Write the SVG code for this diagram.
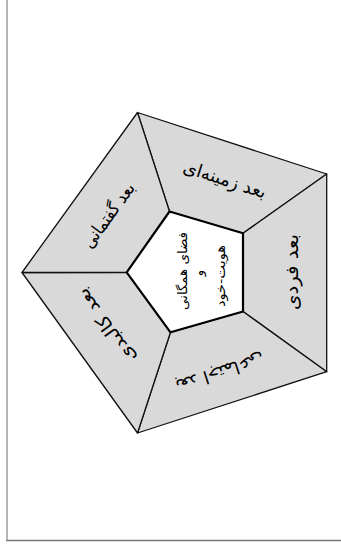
<svg xmlns="http://www.w3.org/2000/svg" width="341" height="552" viewBox="0 0 341 552">
<style>
.seg{fill:#d9d9d9;stroke:#111;stroke-width:1.3;stroke-linejoin:round}
.core{fill:#fff;stroke:#000;stroke-width:2.2;stroke-linejoin:round}
.lbl{font-family:"DejaVu Sans",sans-serif;font-size:18px;fill:#000;text-anchor:middle;dominant-baseline:central}
.ctr{font-family:"DejaVu Sans",sans-serif;font-size:13px;fill:#000;text-anchor:middle;dominant-baseline:central}
</style>
<rect x="0" y="0" width="341" height="552" fill="#fff"/>
<g id="frame" fill="none">
<line x1="7" y1="0" x2="7" y2="541" stroke="#999" stroke-width="1.4"/>
<line x1="6.3" y1="540.5" x2="341" y2="540.5" stroke="#777" stroke-width="1.4"/>
</g>
<g id="connectors"></g>
<g id="seg-zamine">
<polygon class="seg" points="137.5,112.5 326.7,174 243,233.3 169.5,211.5"/>
<text class="lbl" transform="translate(225,179) rotate(18)" textLength="86" lengthAdjust="spacingAndGlyphs">بعد زمینه‌ای</text>
</g>
<g id="seg-fardi">
<polygon class="seg" points="326.7,174 326.7,371.7 243,311.5 243,233.3"/>
<text class="lbl" transform="translate(291,272) rotate(-90)" textLength="76" lengthAdjust="spacingAndGlyphs">بعد فردی</text>
</g>
<g id="seg-ejtemai">
<polygon class="seg" points="326.7,371.7 137.5,433 170.5,332.3 243,311.5"/>
<text class="lbl" transform="translate(220,373) rotate(162)" textLength="92" lengthAdjust="spacingAndGlyphs">بعد اجتماعی</text>
</g>
<g id="seg-kalbadi">
<polygon class="seg" points="137.5,433 22,272.5 126.7,272.3 170.5,332.3"/>
<text class="lbl" transform="translate(106,326) rotate(-126)" textLength="88" lengthAdjust="spacingAndGlyphs">بعد کالبدی</text>
</g>
<g id="seg-goftemani">
<polygon class="seg" points="22,272.5 137.5,112.5 169.5,211.5 126.7,272.3"/>
<text class="lbl" transform="translate(108,215) rotate(-54)" textLength="76" lengthAdjust="spacingAndGlyphs">بعد گفتمانی</text>
</g>
<g id="core">
<polygon class="core" points="169.5,211.5 243,233.3 243,311.5 170.5,332.3 126.7,272.3"/>
<text class="ctr" transform="translate(182,271) rotate(-90)" textLength="78" lengthAdjust="spacingAndGlyphs">فضای همگانی</text>
<text class="ctr" transform="translate(198,273) rotate(-90)">و</text>
<text class="ctr" transform="translate(220,276) rotate(-90)" textLength="62" lengthAdjust="spacingAndGlyphs">هویت-خود</text>
</g>
</svg>
